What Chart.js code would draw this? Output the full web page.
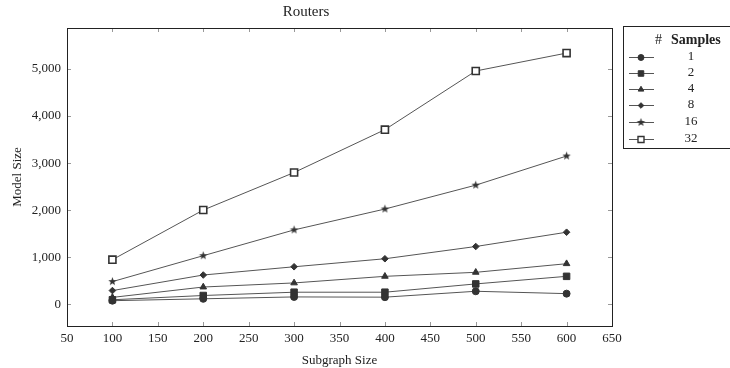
<!DOCTYPE html>
<html>
<head>
<meta charset="utf-8">
<script src="https://cdn.jsdelivr.net/npm/chart.js@4"></script>
<style>
  html, body { margin: 0; padding: 0; background: #fff; }
  #wrap { width: 730px; height: 368px; }
</style>
</head>
<body>
<div id="wrap"><canvas id="ch_routers" width="730" height="368"></canvas></div>
<script>
// Routers — model size vs subgraph size, one line per sample count
const subgraphSizes = [100, 200, 300, 400, 500, 600];
const sampleLabels = ['1', '2', '4', '8', '16', '32'];
const s1  = [80, 120, 160, 155, 280, 230];
const s2  = [100, 190, 260, 260, 436, 597];
const s4  = [150, 370, 457, 597, 682, 865];
const s8  = [295, 625, 800, 970, 1230, 1533];
const s16 = [485, 1035, 1582, 2025, 2532, 3150];
const s32 = [950, 2004, 2800, 3710, 4955, 5335];
const xTicks = [50, 100, 150, 200, 250, 300, 350, 400, 450, 500, 550, 600, 650];
const yTicks = [0, 1000, 2000, 3000, 4000, 5000];

const FONT = '"Liberation Serif", "DejaVu Serif", serif';
const INK = '#333';
const LINE = '#555';

function starImage(r) {
  const c = document.createElement('canvas');
  const s = Math.ceil(r * 2 + 2);
  c.width = s; c.height = s;
  const g = c.getContext('2d');
  g.fillStyle = INK;
  g.beginPath();
  for (let i = 0; i < 10; i++) {
    const rad = i % 2 === 0 ? r : r * 0.42;
    const a = -Math.PI / 2 + i * Math.PI / 5;
    const px = s / 2 + rad * Math.cos(a), py = s / 2 + rad * Math.sin(a);
    i === 0 ? g.moveTo(px, py) : g.lineTo(px, py);
  }
  g.closePath();
  g.fill();
  return c;
}
const star = starImage(4.4);

const styles = [
  { pointStyle: 'circle',   radius: 3.5, fill: INK },
  { pointStyle: 'rect',     radius: 4.6, fill: INK },
  { pointStyle: 'triangle', radius: 3.8, fill: INK },
  { pointStyle: 'rectRot',  radius: 3.3, fill: INK },
  { pointStyle: star,       radius: 4.4, fill: INK },
  { pointStyle: 'rect',     radius: 5.0, fill: '#fff' }
];
const seriesData = [s1, s2, s4, s8, s16, s32];

const datasets = seriesData.map((vals, i) => ({
  label: sampleLabels[i],
  data: vals.map((v, j) => ({ x: subgraphSizes[j], y: v })),
  borderColor: LINE,
  borderWidth: 1,
  pointStyle: styles[i].pointStyle,
  pointRadius: styles[i].radius,
  pointBackgroundColor: styles[i].fill,
  pointBorderColor: INK,
  pointBorderWidth: i === 5 ? 1.6 : 1,
  fill: false,
  tension: 0
}));

// frame with inward tick marks on all four sides
const framePlugin = {
  id: 'frame',
  afterDatasetsDraw(chart) {
    const { ctx, chartArea: a, scales: { x, y } } = chart;
    ctx.save();
    ctx.strokeStyle = '#999';
    ctx.lineWidth = 1;
    ctx.beginPath();
    xTicks.forEach(v => {
      const px = Math.round(x.getPixelForValue(v)) + 0.5;
      ctx.moveTo(px, a.bottom); ctx.lineTo(px, a.bottom - 4);
      ctx.moveTo(px, a.top); ctx.lineTo(px, a.top + 4);
    });
    yTicks.forEach(v => {
      const py = Math.round(y.getPixelForValue(v)) + 0.5;
      ctx.moveTo(a.left, py); ctx.lineTo(a.left + 4, py);
      ctx.moveTo(a.right, py); ctx.lineTo(a.right - 4, py);
    });
    ctx.stroke();
    ctx.strokeStyle = '#222';
    ctx.lineWidth = 1;
    ctx.strokeRect(Math.round(a.left) + 0.5, Math.round(a.top) + 0.5,
      Math.round(a.right - a.left), Math.round(a.bottom - a.top));
    ctx.restore();
  }
};

// legend box to the right of the plot
const legendPlugin = {
  id: 'samplesLegend',
  afterDraw(chart) {
    const { ctx } = chart;
    const bx = 623, by = 26, bw = 110, bh = 122;
    ctx.save();
    ctx.fillStyle = '#fff';
    ctx.fillRect(bx, by, bw, bh);
    ctx.strokeStyle = '#222';
    ctx.lineWidth = 1;
    ctx.strokeRect(bx + 0.5, by + 0.5, bw, bh);
    ctx.fillStyle = '#222';
    ctx.textBaseline = 'middle';
    ctx.font = '14px ' + FONT;
    ctx.textAlign = 'left';
    ctx.fillText('#', 655, 40);
    ctx.font = 'bold 14px ' + FONT;
    ctx.fillText('Samples', 671, 40);
    const rows = [57, 73, 89, 105, 122, 139];
    sampleLabels.forEach((lab, i) => {
      const ry = rows[i];
      ctx.strokeStyle = LINE;
      ctx.lineWidth = 1;
      ctx.beginPath();
      ctx.moveTo(629, ry + 0.5); ctx.lineTo(654, ry + 0.5);
      ctx.stroke();
      ctx.fillStyle = styles[i].fill;
      ctx.strokeStyle = INK;
      ctx.lineWidth = i === 5 ? 1.4 : 1;
      Chart.helpers.drawPoint(ctx, {
        pointStyle: styles[i].pointStyle,
        radius: styles[i].radius * 0.85,
        rotation: 0,
        borderWidth: ctx.lineWidth
      }, 641, ry + 0.5);
      ctx.fillStyle = '#222';
      ctx.textAlign = 'center';
      ctx.font = '13px ' + FONT;
      ctx.fillText(lab, 691, ry);
    });
    ctx.restore();
  }
};

new Chart(document.getElementById('ch_routers').getContext('2d'), {
  type: 'line',
  data: { datasets },
  plugins: [framePlugin, legendPlugin],
  options: {
    responsive: false,
    animation: false,
    layout: { padding: { top: 0, right: 118, bottom: 0, left: 0 } },
    plugins: {
      legend: { display: false },
      tooltip: { enabled: false },
      title: {
        display: true,
        text: 'Routers',
        color: '#222',
        font: { family: FONT, size: 15, weight: 'normal' },
        padding: { top: 3, bottom: 7 }
      }
    },
    scales: {
      x: {
        type: 'linear',
        min: 50, max: 650,
        afterFit: s => { s.height = 42; },
        afterBuildTicks: s => { s.ticks = xTicks.map(v => ({ value: v })); },
        grid: { display: false, drawTicks: false },
        border: { display: false },
        ticks: { padding: 5, color: '#222', font: { family: FONT, size: 13 }, maxRotation: 0, autoSkip: false },
        title: { display: true, text: 'Subgraph Size', color: '#222', font: { family: FONT, size: 13 }, padding: { top: 2, bottom: 0 } }
      },
      y: {
        type: 'linear',
        min: -457, max: 5867,
        afterFit: s => { s.width = 67; },
        afterBuildTicks: s => { s.ticks = yTicks.map(v => ({ value: v })); },
        grid: { display: false, drawTicks: false },
        border: { display: false },
        ticks: {
          padding: 6, color: '#222',
          font: { family: FONT, size: 13 },
          callback: v => v.toLocaleString('en-US')
        },
        title: { display: true, text: 'Model Size', color: '#222', font: { family: FONT, size: 13 }, padding: { top: 10, bottom: 4 } }
      }
    }
  }
});
</script>
</body>
</html>
